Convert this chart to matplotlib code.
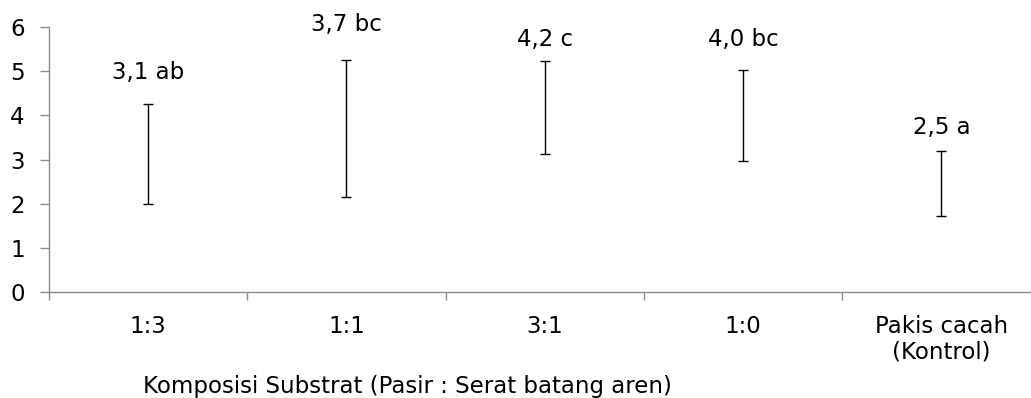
import numpy as np
import matplotlib
matplotlib.use("Agg")
import matplotlib.pyplot as plt

# values
categories = ["1:3", "1:1", "3:1", "1:0", "Pakis cacah\n(Kontrol)"]
means = [3.1, 3.7, 4.2, 4.0, 2.5]
upper = [4.25, 5.26, 5.23, 5.03, 3.19]
lower = [1.98, 2.16, 3.13, 2.97, 1.73]
labels = ["3,1 ab", "3,7 bc", "4,2 c", "4,0 bc", "2,5 a"]
label_y = [4.83, 5.92, 5.58, 5.575, 3.59]   # baseline of each letter label
y_ticks = [0, 1, 2, 3, 4, 5, 6]

# reference text is wide for its height, DejaVu comes closest
plt.rcParams['font.family'] = ['DejaVu Sans']
fs = 16.5

fig = plt.figure(figsize=(10.31, 3.98), dpi=100)
ax = fig.add_axes([49 / 1031, 0.267, 991.5 / 1031, 0.6643])

x = np.arange(len(categories))
means_arr = np.array(means)
yerr = [means_arr - np.array(lower), np.array(upper) - means_arr]
ax.errorbar(x, means_arr, yerr=yerr, fmt='none', ecolor='black',
            elinewidth=1.0, capsize=3.3, capthick=1.0)

for xi, txt, ly in zip(x, labels, label_y):
    ax.text(xi, ly, txt, ha='center', va='baseline', fontsize=fs, clip_on=False)

ax.set_xlim(-0.5, len(categories) - 0.5)
ax.set_ylim(0, 6)

grey = '#8c8c8c'
for side in ['top', 'right']:
    ax.spines[side].set_visible(False)
for side in ['left', 'bottom']:
    ax.spines[side].set_color(grey)
    ax.spines[side].set_linewidth(1.0)

ax.set_yticks(y_ticks)
ax.tick_params(axis='y', direction='out', length=6.5, width=1.0, color=grey,
               labelsize=fs, pad=11)

ax.set_xticks(np.arange(-0.5, len(categories), 1.0))
ax.set_xticklabels([])
ax.set_xticks(x, minor=True)
ax.set_xticklabels(categories, minor=True, linespacing=1.15)
ax.tick_params(axis='x', which='major', direction='out', length=6, width=1.0, color=grey)
ax.tick_params(axis='x', which='minor', length=0, labelsize=fs, pad=16.5)

fig.text(407 / 1031, 1 - 393 / 398, "Komposisi Substrat (Pasir : Serat batang aren)",
         ha='center', va='baseline', fontsize=fs)

fig.savefig("out.png", dpi=100)
